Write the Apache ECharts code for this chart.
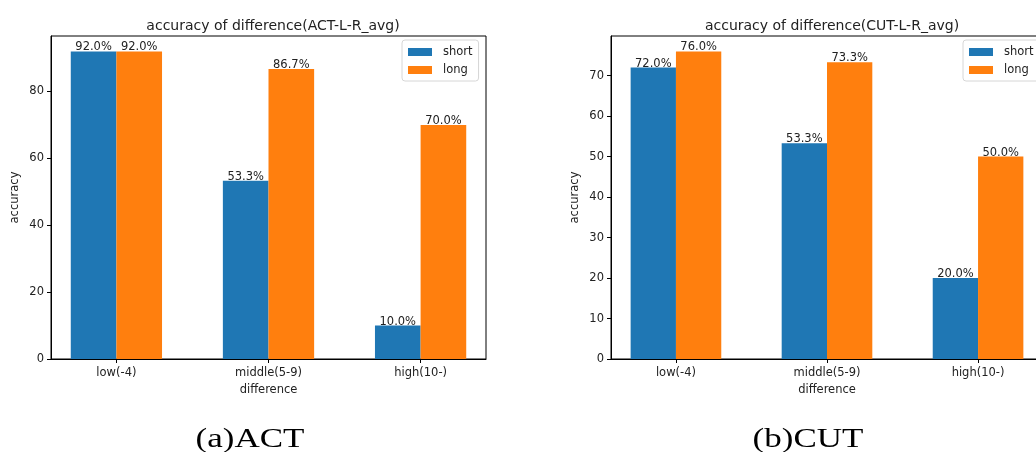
<!DOCTYPE html>
<html>
<head>
<meta charset="utf-8">
<script src="https://cdn.jsdelivr.net/npm/echarts@6/dist/echarts.min.js"></script>
<style>
  html, body { margin: 0; padding: 0; background: #fff; }
  #main { width: 1036px; height: 452px; }
</style>
</head>
<body>
<div id="main"></div>
<script>
const categories = ["low(-4)", "middle(5-9)", "high(10-)"];
const actShort = [92.0, 53.3, 10.0];
const actLong = [92.0, 86.7, 70.0];
const cutShort = [72.0, 53.3, 20.0];
const cutLong = [76.0, 73.3, 50.0];
const actTicks = [0, 20, 40, 60, 80];
const cutTicks = [0, 10, 20, 30, 40, 50, 60, 70];

const font = "DejaVu Sans";
const ink = "#222";
const fs = 11.5;
const chart = echarts.init(document.getElementById("main"));

// matplotlib-like limits: bars of width 0.3 on both sides of the tick, 5% margins
const xMin = -0.3 - 0.13;
const xMax = 2.3 + 0.13;

const makeX = (gridIndex) => ({
  type: "value",
  gridIndex,
  min: xMin,
  max: xMax,
  name: "difference",
  nameLocation: "middle",
  nameGap: 25,
  nameTextStyle: { fontFamily: font, fontSize: fs, color: ink },
  axisLine: { onZero: false, lineStyle: { color: "#000", width: 1 } },
  axisTick: { show: true, length: 4, customValues: [0, 1, 2], lineStyle: { color: "#000" } },
  axisLabel: {
    customValues: [0, 1, 2],
    formatter: (v) => categories[Math.round(v)],
    fontFamily: font,
    fontSize: fs,
    color: ink,
    margin: 8,
  },
  splitLine: { show: false },
});

const makeY = (gridIndex, ticks, values) => ({
  type: "value",
  gridIndex,
  min: 0,
  max: Math.max(...values) * 1.05,
  name: "accuracy",
  nameLocation: "middle",
  nameGap: 30,
  nameTextStyle: { fontFamily: font, fontSize: fs, color: ink },
  axisLine: { show: true, onZero: false, lineStyle: { color: "#000", width: 1 } },
  axisTick: { show: true, length: 4, customValues: ticks, lineStyle: { color: "#000" } },
  axisLabel: { customValues: ticks, fontFamily: font, fontSize: fs, color: ink, margin: 7 },
  splitLine: { show: false },
});

const barLabel = {
  show: true,
  position: "top",
  distance: -2,
  fontFamily: font,
  fontSize: fs,
  color: ink,
  formatter: (p) => p.value[1].toFixed(1) + "%",
};

const makeBar = (name, values, index, color) => ({
  name,
  type: "bar",
  xAxisIndex: index,
  yAxisIndex: index,
  barWidth: "30%",
  barGap: "0%",
  itemStyle: { color },
  label: barLabel,
  data: values.map((v, i) => [i, v]),
});

const makeLegend = (left) => ({
  data: ["short", "long"],
  orient: "vertical",
  left,
  top: 40,
  icon: "rect",
  itemWidth: 24,
  itemHeight: 8,
  itemGap: 6,
  padding: [6, 6, 5, 6],
  borderColor: "#d6d6d6",
  borderWidth: 1,
  borderRadius: 3,
  backgroundColor: "rgba(255,255,255,0.8)",
  textStyle: { fontFamily: font, fontSize: fs, color: ink, padding: [0, 0, 0, 6] },
});

const caption = (x, text) => ({
  type: "text",
  x,
  y: 440,
  scaleX: 1.25,
  style: {
    text,
    x: 0,
    y: 0,
    align: "center",
    verticalAlign: "middle",
    fontFamily: "Liberation Serif",
    fontSize: 28,
    fill: "#000",
  },
});

chart.setOption({
  animation: false,
  title: [
    {
      text: "accuracy of difference(ACT-L-R_avg)",
      left: 268,
      top: 14,
      textAlign: "center",
      textStyle: { fontFamily: font, fontSize: 14, fontWeight: "normal", color: ink },
    },
    {
      text: "accuracy of difference(CUT-L-R_avg)",
      left: 827,
      top: 14,
      textAlign: "center",
      textStyle: { fontFamily: font, fontSize: 14, fontWeight: "normal", color: ink },
    },
  ],
  legend: [makeLegend(402), makeLegend(963)],
  grid: [
    { left: 51, top: 36, width: 435, height: 323, show: true, borderColor: "#000", borderWidth: 1, outerBoundsMode: "none" },
    { left: 611, top: 36, width: 432, height: 323, show: true, borderColor: "#000", borderWidth: 1, outerBoundsMode: "none" },
  ],
  xAxis: [makeX(0), makeX(1)],
  yAxis: [makeY(0, actTicks, actShort.concat(actLong)), makeY(1, cutTicks, cutShort.concat(cutLong))],
  series: [
    makeBar("short", actShort, 0, "#1f77b4"),
    makeBar("long", actLong, 0, "#ff7f0e"),
    makeBar("short", cutShort, 1, "#1f77b4"),
    makeBar("long", cutLong, 1, "#ff7f0e"),
  ],
  graphic: [caption(250, "(a)ACT"), caption(808, "(b)CUT")],
});
</script>
</body>
</html>
